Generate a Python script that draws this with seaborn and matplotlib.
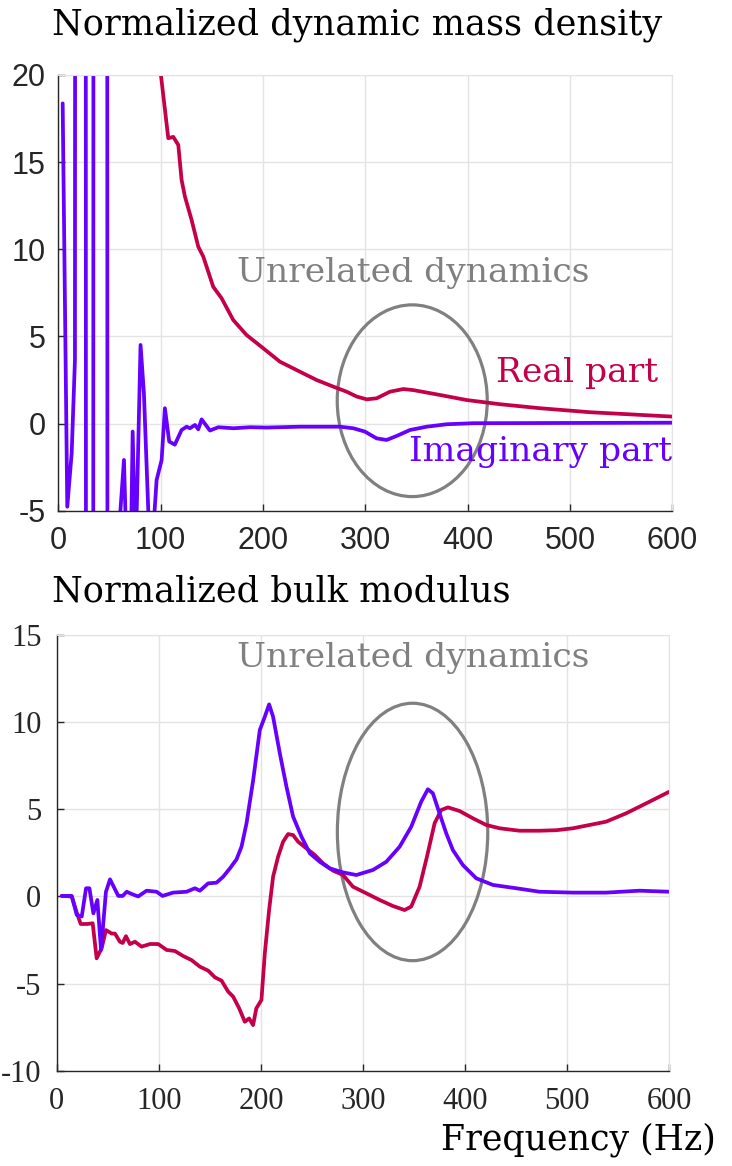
import numpy as np
import pandas as pd
import seaborn as sns
import matplotlib
matplotlib.use("Agg")
import matplotlib.pyplot as plt
from matplotlib.patches import Ellipse

# ---- top panel: normalized dynamic mass density ----
rho_real_f = [100.3, 107.5, 112.4, 117.3, 120.5, 123.8, 130.3, 136.8, 141.7, 151.4,
              159.6, 171.0, 184.0, 200.3, 216.6, 236.0, 252.4, 268.7, 281.7, 291.6,
              301.4, 311.1, 324.2, 337.2, 346.9, 373.0, 399.1, 431.6, 470.7, 519.6, 600.0]
rho_real = [20.0, 16.37, 16.45, 15.98, 13.98, 13.02, 11.68, 10.15, 9.58, 7.85,
            7.19, 5.94, 5.08, 4.32, 3.55, 2.98, 2.50, 2.12, 1.83, 1.55,
            1.39, 1.45, 1.83, 1.98, 1.92, 1.64, 1.35, 1.11, 0.88, 0.65, 0.40]

rho_imag_f = [4.3, 8.8, 13.1, 16.3, 18.5, 25.5, 28.5, 33.0, 35.5, 46.5,
              49.5, 57.0, 60.0, 64.2, 67.5, 70.5, 72.7, 75.5, 80.4, 83.7,
              88.6, 90.5, 93.0, 96.1, 101.0, 104.2, 108.4, 113.9, 120.5, 125.4,
              128.7, 133.6, 136.8, 140.1, 148.2, 156.4, 171.1, 187.4, 203.7, 236.2,
              275.3, 288.3, 299.6, 311.1, 320.9, 330.7, 343.7, 360.0, 379.5, 405.5, 600.0]
rho_imag = [18.37, -4.77, -1.70, 3.65, 300.0, 300.0, -300.0, -300.0, 300.0, 300.0,
            -300.0, -30.0, -5.6, -2.09, -9.0, -9.0, -0.46, -8.0, 4.51, 1.74,
            -6.0, -9.0, -6.0, -3.24, -2.09, 0.88, -1.03, -1.21, -0.37, -0.18,
            -0.27, -0.08, -0.33, 0.24, -0.40, -0.21, -0.27, -0.21, -0.23, -0.18,
            -0.18, -0.27, -0.46, -0.85, -0.94, -0.71, -0.37, -0.18, -0.04, 0.02, 0.05]

# ---- bottom panel: normalized bulk modulus ----
k_real_f = [4.9, 14.7, 19.6, 23.5, 30.0, 35.2, 39.1, 44.0, 48.2, 53.8,
            57.0, 61.9, 64.6, 67.8, 71.7, 76.6, 83.1, 91.3, 99.4, 107.6,
            115.7, 123.9, 132.0, 140.2, 148.4, 154.9, 161.4, 167.9, 172.8, 178.7,
            184.2, 188.4, 192.3, 195.5, 200.5, 203.8, 208.0, 211.9, 216.8, 221.7,
            226.6, 231.5, 236.4, 244.5, 252.7, 260.8, 270.6, 280.4, 290.1, 303.2,
            316.2, 329.3, 340.7, 347.2, 355.4, 362.6, 370.1, 376.6, 383.2, 394.6,
            407.7, 420.7, 433.8, 453.3, 472.9, 489.2, 505.5, 521.8, 538.1, 557.7,
            577.3, 600.0]
k_real = [0.03, 0.0, -0.93, -1.58, -1.58, -1.54, -3.55, -2.97, -1.93, -2.13,
          -2.13, -2.60, -2.67, -2.28, -2.73, -2.60, -2.88, -2.73, -2.73, -3.07,
          -3.13, -3.42, -3.65, -4.03, -4.26, -4.64, -4.83, -5.46, -5.75, -6.42,
          -7.19, -7.00, -7.38, -6.42, -5.94, -3.26, -0.78, 1.13, 2.28, 3.14,
          3.58, 3.52, 3.14, 2.76, 2.38, 1.90, 1.48, 1.23, 0.56, 0.18,
          -0.20, -0.55, -0.78, -0.58, 0.56, 2.28, 4.20, 4.96, 5.11, 4.90,
          4.48, 4.10, 3.91, 3.77, 3.77, 3.80, 3.91, 4.10, 4.29, 4.77,
          5.34, 6.01]

k_imag_f = [4.9, 14.7, 19.6, 24.5, 28.7, 32.0, 35.9, 39.8, 43.4, 48.2,
            52.2, 60.3, 64.6, 68.5, 73.4, 79.8, 88.0, 97.8, 103.6, 114.0,
            127.2, 135.3, 140.2, 148.3, 156.5, 163.0, 169.6, 176.1, 181.0, 185.9,
            192.4, 198.9, 203.8, 208.0, 211.9, 218.5, 225.0, 231.5, 239.7, 247.8,
            257.6, 267.4, 280.4, 293.5, 309.7, 322.8, 335.8, 347.2, 357.0, 363.5,
            368.4, 374.9, 381.5, 388.0, 397.8, 410.9, 427.2, 450.0, 472.9, 505.5,
            538.1, 570.7, 600.0]
k_imag = [0.03, 0.03, -1.06, -1.15, 0.47, 0.47, -0.97, -0.20, -3.07, 0.27,
          0.98, 0.03, 0.03, 0.27, 0.14, 0.0, 0.33, 0.27, 0.03, 0.22,
          0.27, 0.47, 0.33, 0.75, 0.79, 1.13, 1.61, 2.13, 2.86, 4.20,
          6.68, 9.55, 10.31, 11.02, 10.31, 8.21, 6.30, 4.58, 3.43, 2.48,
          1.99, 1.61, 1.38, 1.23, 1.52, 1.99, 2.85, 4.00, 5.44, 6.15,
          5.92, 4.77, 3.62, 2.66, 1.80, 1.04, 0.66, 0.47, 0.27, 0.22,
          0.22, 0.33, 0.27]

RED = "#C4004A"
PURPLE = "#6600FF"
GRAY = "#808080"
SERIF = "DejaVu Serif"

sns.set_style("whitegrid", {"grid.color": "#e3e3e3", "axes.edgecolor": "#e3e3e3"})
plt.rcParams["axes.unicode_minus"] = False

fig = plt.figure(figsize=(7.32, 11.66), dpi=100)
ax1 = fig.add_axes([0.0796, 0.5620, 0.8388, 0.3737])
ax2 = fig.add_axes([0.0775, 0.0817, 0.8369, 0.3737])


def draw(ax, fr, re, fi, im, tickfont, xpad, ypad):
    dre = pd.DataFrame({"f": fr, "v": re})
    dim = pd.DataFrame({"f": fi, "v": im})
    sns.lineplot(data=dre, x="f", y="v", color=RED, lw=2.7, ax=ax, sort=False)
    sns.lineplot(data=dim, x="f", y="v", color=PURPLE, lw=2.7, ax=ax, sort=False)
    ax.set_xlim(0, 600)
    ax.set_xlabel("")
    ax.set_ylabel("")
    ax.set_xticks(range(0, 601, 100))
    ax.grid(True, lw=1.0)
    for s in ["left", "bottom"]:
        ax.spines[s].set_color("#262626")
        ax.spines[s].set_linewidth(1.0)
    for s in ["top", "right"]:
        ax.spines[s].set_color("#e3e3e3")
    ax.tick_params(direction="in", length=5, width=1, color="#262626",
                   labelcolor="#262626", left=True, bottom=True,
                   labelsize=22, labelfontfamily=tickfont)
    ax.tick_params(axis="x", pad=xpad)
    ax.tick_params(axis="y", pad=ypad)


draw(ax1, rho_real_f, rho_real, rho_imag_f, rho_imag, "Liberation Sans", 11, 9)
ax1.set_ylim(-5, 20)
ax1.set_yticks(range(-5, 21, 5))
ax1.add_patch(Ellipse((345.9, 1.31), 146.6, 11.0, fill=False, ec=GRAY, lw=2.3))
ax1.text(174.6, 8.64, "Unrelated dynamics", color=GRAY, family=SERIF, fontsize=24.8,
         ha="left", va="center")
ax1.text(586, 2.9, "Real part", color=RED, family=SERIF, fontsize=24.8,
         ha="right", va="center")
ax1.text(600, -1.63, "Imaginary part", color=PURPLE, family=SERIF, fontsize=24.8,
         ha="right", va="center")

draw(ax2, k_real_f, k_real, k_imag_f, k_imag, "Liberation Serif", 12, 11)
ax2.set_ylim(-10, 15)
ax2.set_yticks(range(-10, 16, 5))
ax2.add_patch(Ellipse((348.5, 3.70), 147.3, 14.77, fill=False, ec=GRAY, lw=2.3))
ax2.text(176.6, 13.68, "Unrelated dynamics", color=GRAY, family=SERIF, fontsize=24.8,
         ha="left", va="center")

fig.text(52 / 732, 1 - 25 / 1166, "Normalized dynamic mass density", family=SERIF,
         fontsize=25.3, ha="left", va="center", color="black")
fig.text(52 / 732, 1 - 592 / 1166, "Normalized bulk modulus", family=SERIF,
         fontsize=25.3, ha="left", va="center", color="black")
fig.text(716 / 732, 1 - 1140 / 1166, "Frequency (Hz)", family=SERIF,
         fontsize=25, ha="right", va="center", color="black")

fig.savefig("out.png", dpi=100)
